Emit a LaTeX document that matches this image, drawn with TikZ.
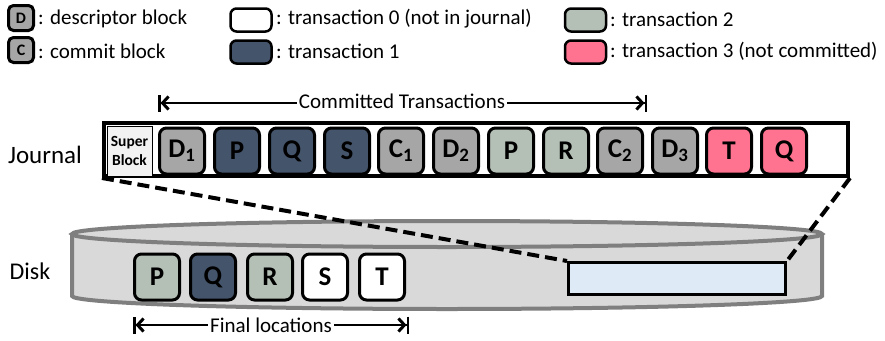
\documentclass[tikz,border=0pt]{standalone}
\usepackage{fontspec}
\setmainfont{Carlito}
\usepackage{tikz}
\usetikzlibrary{arrows.meta,positioning}
\definecolor{mynavy}{RGB}{68,84,106}
\definecolor{mysage}{RGB}{180,191,181}
\definecolor{mypink}{RGB}{255,115,144}
\definecolor{mygray}{RGB}{166,166,166}
\definecolor{mydisk}{RGB}{217,217,217}
\definecolor{mydiskline}{RGB}{127,127,127}
\definecolor{myblue}{RGB}{222,234,246}
\tikzstyle{blk}=[draw,line width=3pt,rounded corners=7pt,minimum width=45pt,minimum height=46pt,inner sep=0pt,font=\fontsize{27}{29}\selectfont\bfseries]
\tikzstyle{legblk}=[draw,line width=2.5pt,rounded corners=6pt,minimum width=41pt,minimum height=23pt,inner sep=0pt]
\tikzstyle{legsmall}=[draw,line width=3pt,rounded corners=5pt,fill=mygray,minimum size=25pt,inner sep=0pt,font=\fontsize{16}{17}\selectfont\bfseries]
\tikzstyle{legtext}=[anchor=west,inner sep=0pt,font=\fontsize{21}{23}\selectfont]
\tikzstyle{span}=[line width=2.5pt,{Bar[width=17pt,line width=2.5pt]Straight Barb[length=6pt,width=13pt,line width=3pt]}-{Straight Barb[length=6pt,width=13pt,line width=3pt]Bar[width=17pt,line width=2.5pt]}]
\tikzstyle{spanlabel}=[fill=white,inner xsep=2pt,inner ysep=1pt,font=\fontsize{21}{23}\selectfont]
\tikzstyle{zoomline}=[line width=4pt,dash pattern=on 12pt off 6pt]

\begin{document}
\begin{tikzpicture}[x=1pt,y=-1pt]
\useasboundingbox (0,0) rectangle (885,340);
% legend
\draw (21,18) node [legsmall] (lgD) {D};
\draw (21,50) node [legsmall] (lgC) {C};
\draw (38,19) node [legtext] (lgDtext) {: descriptor block};
\draw (38,51) node [legtext] (lgCtext) {: commit block};
\draw (251,20) node [legblk, fill=white] (lg0) {};
\draw (251,52) node [legblk, fill=mynavy] (lg1) {};
\draw (276,19) node [legtext] (lg0text) {: transaction 0 (not in journal)};
\draw (276,51) node [legtext] (lg1text) {: transaction 1};
\draw (585.5,20) node [legblk, fill=mysage] (lg2) {};
\draw (585.5,52) node [legblk, fill=mypink] (lg3) {};
\draw (610,19) node [legtext] (lg2text) {: transaction 2};
\draw (610,51) node [legtext] (lg3text) {: transaction 3 (not committed)};

% disk
\fill[mydisk] (72,234) -- (72,296) arc[start angle=180,end angle=360,x radius=375pt,y radius=13pt] -- (822,234) arc[start angle=0,end angle=180,x radius=375pt,y radius=13pt] -- cycle;
\draw[mydiskline, line width=4pt] (72,234) -- (72,296) arc[start angle=180,end angle=360,x radius=375pt,y radius=13pt] -- (822,234);
\draw[mydiskline, fill=mydisk, line width=4pt] (447,234) ellipse [x radius=375pt,y radius=13pt];
\draw (30,271) node [font=\fontsize{24}{26}\selectfont] (disklabel) {Disk};
\draw (677,278.5) node [draw, line width=3pt, fill=myblue, minimum width=217pt, minimum height=32pt] (jarea) {};
\draw (157,277) node [blk, fill=mysage] (dP) {P};
\draw (213,277) node [blk, fill=mynavy] (dQ) {Q};
\draw (270,277) node [blk, fill=mysage] (dR) {R};
\draw (325,277) node [blk, fill=white] (dS) {S};
\draw (382,277) node [blk, fill=white] (dT) {T};
\coordinate (finL) at (133,325);
\coordinate (finR) at (409,325);
\draw[span] (finL) -- (finR);
\draw (271,325) node [spanlabel] (finlabel) {Final locations};

% journal
\draw (45,155) node [font=\fontsize{25}{27}\selectfont] (jlabel) {Journal};
\draw (476,149.5) node [draw, line width=4pt, fill=white, minimum width=744pt, minimum height=53pt] (journal) {};
\draw (129.5,151) node [draw, line width=1pt, fill=black!5, minimum width=45pt, minimum height=50pt, inner sep=0pt, align=center, font=\fontsize{15.5}{19}\selectfont\bfseries] (super) {Super\\Block};
\draw (182,151) node [blk, fill=mygray] (j1) {D\textsubscript{1}};
\draw (237,151) node [blk, fill=mynavy] (j2) {P};
\draw (292,151) node [blk, fill=mynavy] (j3) {Q};
\draw (347,151) node [blk, fill=mynavy] (j4) {S};
\draw (401,151) node [blk, fill=mygray] (j5) {C\textsubscript{1}};
\draw (456,151) node [blk, fill=mygray] (j6) {D\textsubscript{2}};
\draw (511,151) node [blk, fill=mysage] (j7) {P};
\draw (566,151) node [blk, fill=mysage] (j8) {R};
\draw (620,151) node [blk, fill=mygray] (j9) {C\textsubscript{2}};
\draw (675,151) node [blk, fill=mygray] (j10) {D\textsubscript{3}};
\draw (729,151) node [blk, fill=mypink] (j11) {T};
\draw (784,151) node [blk, fill=mypink] (j12) {Q};
\coordinate (comL) at (158,103);
\coordinate (comR) at (647,103);
\draw[span] (comL) -- (comR);
\draw (402,101) node [spanlabel] (comlabel) {Committed Transactions};

% zoom lines
\draw[zoomline] (journal.south west) -- (jarea.north west);
\draw[zoomline] (journal.south east) -- (jarea.north east);
\end{tikzpicture}
\end{document}
